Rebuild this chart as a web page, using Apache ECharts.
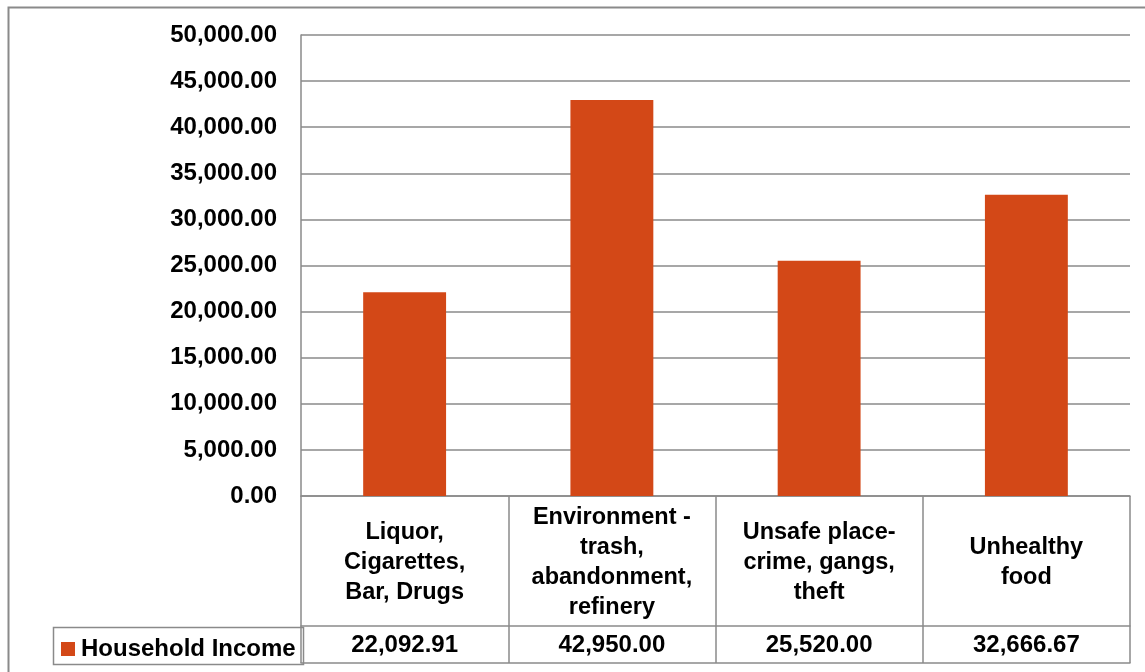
<!DOCTYPE html>
<html>
<head>
<meta charset="utf-8">
<script src="https://cdn.jsdelivr.net/npm/echarts@6/dist/echarts.min.js"></script>
<style>
  html, body { margin: 0; padding: 0; background: #ffffff; }
  #chart { width: 1145px; height: 672px; }
</style>
</head>
<body>
<div id="chart"></div>
<script>
// Problem categories shown in the data-table header row
const categories = [
  'Liquor,\nCigarettes,\nBar, Drugs',
  'Environment -\ntrash,\nabandonment,\nrefinery',
  'Unsafe place-\ncrime, gangs,\ntheft',
  'Unhealthy\nfood'
];
// Average household income per category
const seriesName = 'Household Income';
const incomeValues = [22092.91, 42950.00, 25520.00, 32666.67];
// Value axis range
const yMin = 0;
const yMax = 50000;
const yStep = 5000;

const fmt = v => v.toLocaleString('en-US', { minimumFractionDigits: 2, maximumFractionDigits: 2 });

const FONT = 'Liberation Sans, Arial, sans-serif';
const LINE = '#8a8a8a';
const BAR = '#D34817';

const chart = echarts.init(document.getElementById('chart'), null, { renderer: 'canvas' });

const gridLeft = 301, gridRight = 15, gridTop = 35, gridBottom = 176;
const headerH = 130, rowH = 37;

chart.setOption({
  animation: false,
  backgroundColor: '#ffffff',
  textStyle: { fontFamily: FONT },
  grid: { left: gridLeft, right: gridRight, top: gridTop, bottom: gridBottom, containLabel: false },
  legend: {
    data: [seriesName],
    left: 61,
    top: 672 - gridBottom + headerH + 11,
    icon: 'rect',
    itemWidth: 14,
    itemHeight: 14,
    itemGap: 0,
    padding: 0,
    textStyle: { fontFamily: FONT, fontSize: 24, fontWeight: 'bold', color: '#000', padding: [0, 0, 0, 1] },
    selectedMode: false
  },
  xAxis: [
    {
      // header row: category names with cell dividers drawn by the ticks
      type: 'category',
      data: categories,
      position: 'bottom',
      axisLine: { show: true, lineStyle: { color: LINE, width: 1.5 } },
      axisTick: { show: true, length: headerH + rowH, interval: 0, alignWithLabel: false, lineStyle: { color: LINE, width: 1.5 } },
      axisLabel: {
        interval: 0,
        margin: headerH / 2 + 2,
        verticalAlign: 'middle',
        align: 'center',
        color: '#000',
        fontFamily: FONT,
        fontSize: 23.5,
        fontWeight: 'bold',
        lineHeight: 30
      },
      splitLine: { show: false }
    },
    {
      // value row of the data table
      type: 'category',
      data: categories,
      position: 'bottom',
      offset: headerH,
      axisLine: { show: true, lineStyle: { color: LINE, width: 1.5 } },
      axisTick: { show: false },
      axisLabel: {
        interval: 0,
        margin: rowH / 2 + 1,
        verticalAlign: 'middle',
        align: 'center',
        color: '#000',
        fontFamily: FONT,
        fontSize: 24,
        fontWeight: 'bold',
        formatter: (v, i) => fmt(incomeValues[i])
      }
    },
    {
      // closing line under the value row
      type: 'category',
      data: categories,
      position: 'bottom',
      offset: headerH + rowH,
      axisLine: { show: true, lineStyle: { color: LINE, width: 1.5 } },
      axisTick: { show: false },
      axisLabel: { show: false }
    }
  ],
  yAxis: {
    type: 'value',
    min: yMin,
    max: yMax,
    interval: yStep,
    axisLine: { show: true, lineStyle: { color: LINE, width: 1.5 } },
    axisTick: { show: false },
    axisLabel: {
      margin: 24,
      color: '#000',
      fontFamily: FONT,
      fontSize: 24,
      fontWeight: 'bold',
      padding: [3, 0, 0, 0],
      formatter: v => fmt(v)
    },
    splitLine: { show: true, lineStyle: { color: LINE, width: 1.5 } }
  },
  series: [{
    name: seriesName,
    type: 'bar',
    xAxisIndex: 0,
    data: incomeValues,
    barWidth: '40%',
    itemStyle: { color: BAR }
  }],
  graphic: [
    {
      // chart frame
      type: 'rect',
      left: 6, top: 5,
      shape: { width: 1160, height: 700 },
      style: { fill: 'none', stroke: LINE, lineWidth: 2 },
      silent: true, z: -1
    },
    {
      // legend-key cell of the data table
      type: 'rect',
      left: 51, top: 672 - gridBottom + headerH - 1,
      shape: { width: gridLeft - 51, height: rowH },
      style: { fill: 'none', stroke: LINE, lineWidth: 1.5 },
      silent: true
    }
  ]
});
</script>
</body>
</html>
